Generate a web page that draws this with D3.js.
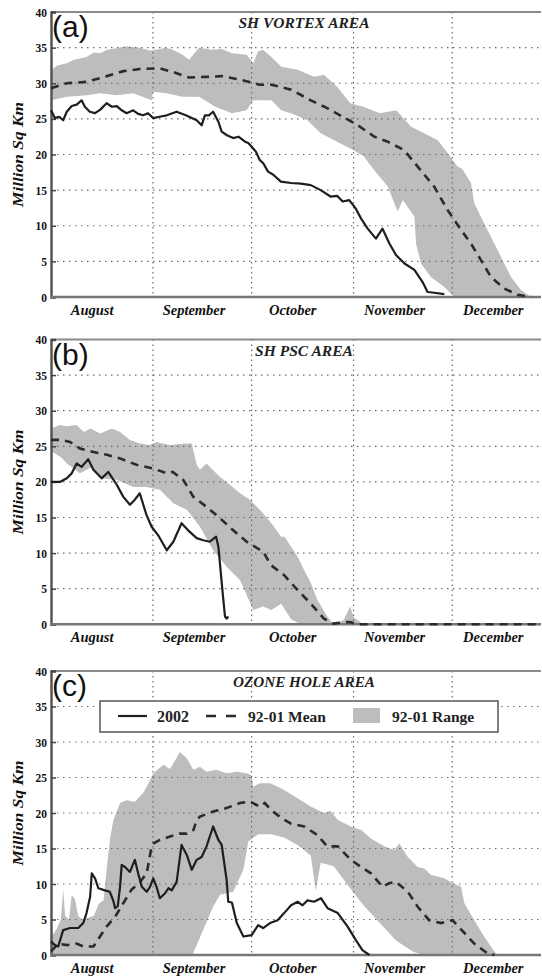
<!DOCTYPE html>
<html><head><meta charset="utf-8">
<script src="https://cdn.jsdelivr.net/npm/d3@7"></script>
<style>body{margin:0;background:#fff}svg{display:block}
.serif{font-family:"Liberation Serif","Times New Roman",Times,serif}
.sans{font-family:"Liberation Sans",Arial,Helvetica,sans-serif}</style>
</head><body><svg id="c" width="542" height="977"></svg>
<script>
// ---------- data (x = days since 1 August) ----------
const months = ["August","September","October","November","December"];
const monthStarts = [0,31,61,92,122];
const yTicks = [0,5,10,15,20,25,30,35,40];
const titles = ["SH VORTEX AREA","SH PSC AREA","OZONE HOLE AREA"];
const panelLetters = ["(a)","(b)","(c)"];
const yLabel = "Million Sq Km";
const legendLabels = ["2002","92-01 Mean","92-01 Range"];

const vortex2002 = [[0,26.2],[1.2,25.1],[2.5,25.3],[3.7,24.8],[4.8,26.0],[6.3,26.8],[7.8,27.0],[9.3,27.6],[10.3,26.7],[11.8,26.0],[13.4,25.8],[15,26.3],[16.9,27.2],[18.5,26.7],[20,26.8],[21.5,26.2],[23,25.8],[25,26.2],[26.5,25.7],[28,25.5],[29.5,25.8],[31.1,25.1],[33,25.3],[35.2,25.5],[38.2,26.0],[41,25.5],[44.3,24.8],[45.8,24.1],[46.8,25.5],[48,25.5],[49.3,26.0],[50.9,24.6],[51.9,23.2],[53.5,22.7],[55.4,22.3],[57,22.5],[59,21.8],[60,21.6],[61,21.1],[62.3,20.4],[63.5,19.2],[64.5,18.8],[66,17.6],[67.5,17.2],[69.9,16.2],[73,16.0],[76,15.9],[79,15.7],[82,15.0],[85,14.1],[87,14.2],[88.7,13.4],[90.7,13.6],[92.7,12.4],[94.3,11.0],[96.3,9.6],[98.8,8.2],[100.8,9.6],[102.9,7.5],[104.9,5.9],[107.5,4.7],[110.5,3.8],[113,2.1],[114.5,0.7],[116.5,0.6],[119.6,0.4]];
const vortexMean = [[0,29.3],[4.8,30.0],[10.8,30.2],[17,31.0],[22,31.7],[27,32.0],[33,32.1],[37,31.6],[42,30.8],[47,30.9],[52,31.0],[57.5,30.5],[63.5,29.8],[67,29.8],[73,29.1],[79,27.6],[84,26.5],[88.7,25.3],[93.3,24.1],[98.3,22.5],[102.4,21.8],[107.4,20.6],[111.5,18.3],[116.5,15.5],[120.6,12.2],[124.7,9.4],[127.7,7.5],[130.7,5.2],[133.8,2.8],[137.8,1.2],[141.9,0.3],[146,0]];
const vortexMax = [[0,31.9],[2,32.5],[4.8,32.8],[7,33.3],[10.8,33.7],[13,34.3],[15,34.2],[17,34.7],[20,34.9],[23,35.2],[27,35.0],[30,34.6],[32,34.7],[35,35.0],[37,34.7],[40,34.0],[42,33.3],[45,35.0],[49,34.7],[52,34.8],[55,34.2],[59.5,34.0],[61.5,32.8],[63,34.5],[64.5,34.7],[67,33.7],[70,32.3],[75,31.9],[80,30.9],[83,31.2],[87,29.5],[91,27.2],[95,26.7],[100,25.8],[105,26.2],[109.5,23.9],[113.5,23.0],[117.6,22.0],[120.6,20.2],[123.6,18.3],[125,18.0],[127.7,16.0],[128.7,13.2],[131.7,10.3],[134.8,7.5],[137.8,4.7],[139.9,2.8],[142.9,1.0],[146,0]];
const vortexMin = [[0,27.6],[4.8,28.1],[10.8,28.3],[15,28.6],[20,28.3],[25,28.6],[30.6,27.6],[31,28.8],[35,28.6],[40,28.1],[45,28.1],[50,26.7],[55,25.8],[59.5,26.2],[61.5,27.6],[64.5,27.6],[67,27.6],[70,26.2],[73,25.8],[78,24.8],[82,23.0],[87,21.8],[92,20.6],[95,19.8],[98.3,17.8],[102.4,15.5],[105.4,12.0],[107,13.6],[110.5,11.3],[111,7.5],[112.5,4.7],[115.5,2.8],[119.6,1.4],[122.6,0],[146,0]];

const psc2002 = [[0,20.0],[2.7,20.0],[4.8,20.5],[6.3,21.2],[7.8,22.6],[9.3,22.1],[11.3,23.2],[12.9,21.7],[15.4,20.5],[17.4,21.4],[20,19.6],[22,17.9],[24,16.8],[25.5,17.5],[27,18.4],[29,15.4],[30.6,13.7],[32.6,12.5],[35.2,10.4],[37.2,11.6],[39.7,14.2],[41.7,13.2],[44.3,12.1],[46.3,11.8],[48.3,11.6],[50.2,12.3],[50.9,10.9],[52.2,4.4],[52.9,1.1],[53.4,0.8],[53.9,1.1]];
const pscMean = [[0,25.9],[3,25.9],[5.8,25.6],[8.8,24.7],[12.9,24.2],[17,23.8],[21,23.3],[26,22.4],[31,21.9],[35.2,21.2],[37,21.4],[40.2,20.3],[43.3,17.9],[47.3,16.5],[51.4,14.9],[55.4,13.2],[59.5,11.6],[64.5,10.2],[66.9,8.3],[70.9,6.9],[75,4.8],[79,2.9],[83,0.8],[86,0.1],[89,0.3],[91,0.3],[93,0],[149,0]];
const pscMax = [[0,27.5],[2.7,28.0],[4.8,27.8],[7.8,28.0],[10,27.0],[12,27.5],[15,26.8],[18.5,27.5],[21,27.0],[24,25.9],[27,25.4],[30,25.2],[32.1,25.6],[36,25.2],[41,25.4],[42.8,25.4],[44.3,22.4],[45.3,21.7],[47.3,22.6],[48.3,22.1],[51.4,20.7],[54.4,19.6],[57.5,18.4],[60.5,17.5],[64.5,15.6],[67,14.2],[70,12.3],[71,12.3],[73,10.9],[75,9.5],[77,7.6],[79,5.8],[81,3.4],[84,1.1],[86,0],[89,0.6],[91,2.5],[92,1.0],[95,0],[149,0]];
const pscMin = [[0,24.3],[3,23.5],[5,22.5],[8.8,21.2],[12,22.0],[15,20.5],[20,20.3],[25,19.3],[29,19.3],[33.1,18.9],[37.2,17.0],[41.3,16.1],[45.3,13.7],[49.3,10.4],[53.4,8.1],[57.5,6.2],[61.5,2.0],[64.5,2.5],[67,2.0],[70,2.9],[73,0.7],[76,0],[149,0]];

const ozone2002 = [[0,1.9],[1.2,1.4],[2.2,1.2],[3.7,3.5],[5.8,3.8],[8.3,3.8],[9.8,4.5],[10.8,5.9],[11.9,8.2],[12.4,11.5],[13.4,10.8],[14.4,9.4],[16.4,9.1],[17.9,8.9],[18.9,7.7],[19.5,6.6],[20.3,6.9],[21,9.6],[21.5,12.7],[22.5,12.4],[24,11.7],[25.5,13.4],[26.5,11.5],[27.6,9.6],[29.1,8.9],[30.1,9.6],[31.1,10.8],[32.1,9.6],[33.1,8.0],[34.7,8.7],[35.7,9.4],[36.7,9.1],[38.2,10.3],[39.7,15.5],[41.3,14.1],[42.8,12.0],[44.3,13.4],[45.8,13.8],[47.3,15.3],[49.3,18.1],[50.9,16.2],[51.9,15.5],[53.4,10.6],[53.9,7.5],[55,7.4],[56.5,4.5],[58.5,2.6],[61,2.8],[63,4.2],[64.5,3.8],[66.6,4.5],[68.9,4.9],[70.9,5.9],[73,7.0],[75,7.5],[76.5,7.0],[78,7.7],[80,7.5],[82.1,8.0],[84.1,6.6],[87.2,5.9],[90.2,4.0],[92.7,2.1],[94.7,0.7],[96.8,0]];
const ozoneMean = [[0,0.5],[2.2,1.6],[4.8,1.4],[7.8,1.6],[9.8,1.2],[12.9,1.2],[14.9,2.6],[16.9,4.0],[19.5,5.4],[22,7.3],[24.5,9.2],[27.1,10.3],[29.1,11.5],[30.6,15.3],[31.1,15.7],[33.1,16.2],[36.2,16.7],[39,17.1],[41.3,17.1],[43.3,17.6],[44.3,19.0],[45.3,19.5],[49.3,20.2],[53.4,20.7],[57.5,21.4],[60.5,21.6],[63.5,20.9],[65,21.4],[67,20.4],[70,19.3],[73,18.5],[77,18.1],[81,16.9],[84,15.3],[87.2,15.3],[91.2,13.4],[94.3,12.4],[97.3,11.5],[100.8,9.6],[102.8,10.1],[104.9,10.3],[108.5,8.9],[111.5,6.8],[115,4.9],[118.6,4.5],[122.1,4.9],[125.7,3.1],[128.7,1.6],[132.8,0.2],[134.8,0]];
const ozoneMax = [[0,2.5],[1.5,3.5],[3,5.0],[3.7,9.2],[4.3,5.5],[5.5,5],[6.3,8.5],[7.3,7.8],[8.3,5.5],[9.5,5.0],[11,5.2],[13,5.5],[14.5,7.2],[16,7.7],[16.9,12],[18,16.5],[19,19.0],[21,21.4],[23,21.8],[25.5,21.6],[28,22.8],[29.1,23.7],[31.1,25.6],[34.2,26.8],[36.2,26.2],[39.2,28.6],[41.3,27.7],[43.3,26.1],[45.3,26.5],[47.3,25.8],[50.2,26.1],[53.4,25.6],[56.5,25.8],[59.5,25.6],[61,25.3],[61.5,23.7],[63.5,24.2],[66.5,24.2],[69,23.7],[71,23.2],[76,21.8],[79,20.9],[83,20.0],[85,20.3],[87.2,19.0],[91.2,18.1],[94.3,17.6],[97.3,16.4],[101.3,15.3],[104.4,14.8],[105.9,15.7],[108.5,13.8],[111.5,12.4],[113.5,12.2],[115.5,11.3],[119.6,10.8],[122.1,10.1],[124.7,9.6],[125.7,7.3],[128.7,4.9],[131.7,2.6],[134.8,0.5],[135.8,0]];
const ozoneMin = [[0,0],[43,0],[49.3,6.8],[51.4,8.5],[55.4,8.9],[58.5,12.0],[60,16.0],[63,17.0],[67,17.0],[71,16.5],[75,15.5],[79,14.0],[80.5,9.0],[82,13.0],[86,12.5],[90,10.0],[95,7.0],[100,4.5],[105,2.0],[110,0.5],[113,0],[135.8,0]];

// ---------- layout ----------
const svg = d3.select("#c");
const X0 = 51, X1 = 541;
const panels = [
  {top:12, bottom:297, obs:vortex2002, mean:vortexMean, max:vortexMax, min:vortexMin},
  {top:339.5, bottom:624.3, obs:psc2002, mean:pscMean, max:pscMax, min:pscMin},
  {top:671, bottom:955, obs:ozone2002, mean:ozoneMean, max:ozoneMax, min:ozoneMin}
];
const titleWidths = [131, 98, 142];
const x = d3.scaleLinear().domain([0,149]).range([X0,X1]);

panels.forEach((p,i)=>{
  const y = d3.scaleLinear().domain([0,40]).range([p.bottom,p.top]);
  const g = svg.append("g");
  const line = d3.line().x(d=>x(d[0])).y(d=>y(d[1]));

  // range band
  const poly = p.max.concat(p.min.slice().reverse());
  g.append("path").attr("d", line(poly)+"Z").attr("fill","#bdbdbd").attr("stroke","none");

  // grid
  g.selectAll(".hg").data(yTicks.filter(t=>t>0&&t<40)).enter().append("line")
    .attr("x1",X0).attr("x2",X1).attr("y1",d=>y(d)).attr("y2",d=>y(d))
    .attr("stroke","#6a6a6a").attr("stroke-width",1.2).attr("stroke-dasharray","1.5,4.5");
  g.selectAll(".vg").data(monthStarts.slice(1)).enter().append("line")
    .attr("x1",d=>x(d)).attr("x2",d=>x(d)).attr("y1",p.top).attr("y2",p.bottom)
    .attr("stroke","#6a6a6a").attr("stroke-width",1.2).attr("stroke-dasharray","1.5,3.5");

  // top border
  g.append("line").attr("x1",X0).attr("x2",X1).attr("y1",p.top).attr("y2",p.top)
    .attr("stroke","#8a8a8a").attr("stroke-width",2);

  // left axis via d3
  const yAxis = d3.axisLeft(y).tickValues(yTicks).tickSize(-5).tickPadding(4).tickFormat(d3.format("d"));
  const ya = g.append("g").attr("transform",`translate(${X0},0)`).call(yAxis);
  ya.attr("font-family",null).attr("font-size",null);
  ya.select(".domain").attr("stroke","#555").attr("stroke-width",2.5);
  ya.selectAll(".tick line").attr("stroke","#444").attr("stroke-width",1.5);
  ya.selectAll(".tick text").attr("class","serif").style("font-weight","bold")
    .style("font-size","11.5px").attr("fill","#111").attr("dy","0.35em");

  // bottom axis
  g.append("line").attr("x1",X0).attr("x2",X1).attr("y1",p.bottom).attr("y2",p.bottom)
    .attr("stroke","#777").attr("stroke-width",2.5);

  // month labels
  g.selectAll(".ml").data(months).enter().append("text").attr("class","serif")
    .attr("x",(d,k)=>x(monthStarts[k]+12.5)).attr("y",p.bottom+18)
    .attr("text-anchor","middle").style("font-weight","bold")
    .style("font-style","italic").style("font-size","14.5px").attr("fill","#111").text(d=>d);

  // mean & 2002
  g.append("path").attr("d",line(p.mean)).attr("fill","none").attr("stroke","#2b2b2b")
    .attr("stroke-width",2.6).attr("stroke-dasharray","8,6");
  g.append("path").attr("d",line(p.obs)).attr("fill","none").attr("stroke","#1e1e1e")
    .attr("stroke-width",2.2).attr("stroke-linejoin","round");

  // title
  g.append("text").attr("class","serif").attr("x",304).attr("y",p.top+16).attr("text-anchor","middle")
    .style("font-weight","bold").style("font-style","italic")
    .style("font-size","14px").attr("fill","#222")
    .attr("textLength",titleWidths[i]).attr("lengthAdjust","spacingAndGlyphs").text(titles[i]);

  // panel letter
  g.append("text").attr("class","sans").attr("x",X0+1).attr("y",p.top+25)
    .style("font-size","30px").attr("fill","#111").text(panelLetters[i]);

  // y label
  g.append("text").attr("class","serif").attr("transform",`translate(23,${(p.top+p.bottom)/2}) rotate(-90)`)
    .attr("text-anchor","middle").style("font-weight","bold")
    .style("font-style","italic").style("font-size","14px").attr("fill","#111")
    .attr("textLength",105).attr("lengthAdjust","spacingAndGlyphs").text(yLabel);
});

// legend in panel c
const lg = svg.append("g");
lg.append("rect").attr("x",100).attr("y",701).attr("width",398).attr("height",31)
  .attr("fill","#fff").attr("stroke","#555").attr("stroke-width",1.5);
lg.append("line").attr("x1",118).attr("x2",147).attr("y1",716).attr("y2",716)
  .attr("stroke","#1e1e1e").attr("stroke-width",2.2);
lg.append("text").attr("class","serif").attr("x",157).attr("y",721.5).style("font-weight","bold")
  .style("font-size","16px").attr("fill","#222").text(legendLabels[0]);
lg.append("line").attr("x1",206).attr("x2",238).attr("y1",716).attr("y2",716)
  .attr("stroke","#2b2b2b").attr("stroke-width",2.6).attr("stroke-dasharray","10,10");
lg.append("text").attr("class","serif").attr("x",248).attr("y",721.5).style("font-weight","bold")
  .style("font-size","15.5px").attr("fill","#222").text(legendLabels[1]);
lg.append("rect").attr("x",353).attr("y",708).attr("width",27).attr("height",15).attr("fill","#bdbdbd");
lg.append("text").attr("class","serif").attr("x",392).attr("y",721.5).style("font-weight","bold")
  .style("font-size","15.5px").attr("fill","#222").text(legendLabels[2]);
</script></body></html>
